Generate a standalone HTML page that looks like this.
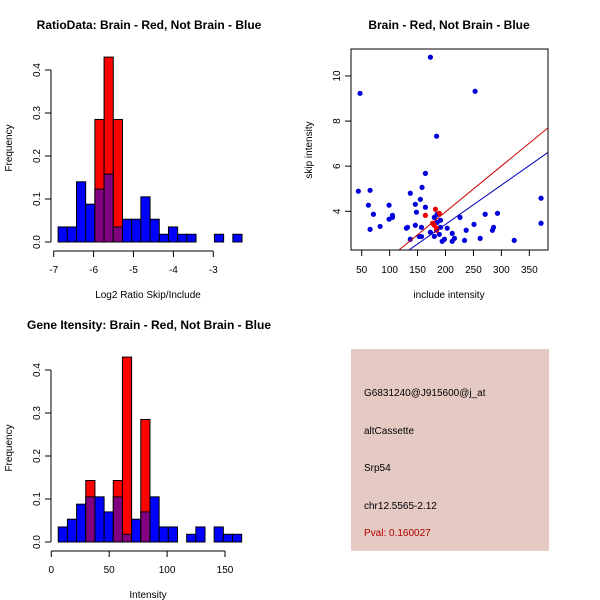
<!DOCTYPE html>
<html><head><meta charset="utf-8"><style>
html,body{margin:0;padding:0;background:#fff}
svg{display:block;font-family:"Liberation Sans",sans-serif}
</style></head><body>
<svg id="s" width="600" height="600" viewBox="0 0 600 600">
<text x="149" y="29" font-size="12" font-weight="bold" text-anchor="middle">RatioData: Brain - Red, Not Brain - Blue</text>
<text x="449" y="29" font-size="12" font-weight="bold" text-anchor="middle">Brain - Red, Not Brain - Blue</text>
<text x="149" y="329" font-size="12" font-weight="bold" text-anchor="middle">Gene Itensity: Brain - Red, Not Brain - Blue</text>
<text x="148" y="298" font-size="10" text-anchor="middle">Log2 Ratio Skip/Include</text>
<text x="148" y="598" font-size="10" text-anchor="middle">Intensity</text>
<text x="449" y="298" font-size="10" text-anchor="middle">include intensity</text>
<text transform="translate(12,148) rotate(-90)" font-size="10" text-anchor="middle">Frequency</text>
<text transform="translate(12,448) rotate(-90)" font-size="10" text-anchor="middle">Frequency</text>
<text transform="translate(312,150) rotate(-90)" font-size="10" text-anchor="middle">skip intensity</text>
<g>
<rect x="351" y="349" width="198" height="202" fill="#e5c9c3"/>
<text x="364" y="396" font-size="10">G6831240@J915600@j_at</text>
<text x="364" y="434" font-size="10">altCassette</text>
<text x="364" y="471" font-size="10">Srp54</text>
<text x="364" y="509" font-size="10">chr12.5565-2.12</text>
<text x="364" y="536" font-size="10" fill="#b00000">Pval: 0.160027</text>
</g>
</svg>
<script>
// Ratio histogram data
const ratioStart = -6.89, ratioBin = 0.2305;
const ratioBlue = [0.035,0.035,0.14,0.088,0.123,0.158,0.035,0.053,0.053,0.105,0.053,0.018,0.035,0.018,0.018,0,0,0.018,0,0.018];
const ratioRed  = [0,0,0,0,0.285,0.43,0.285,0,0,0,0,0,0,0,0,0,0,0,0,0];
const ratioXTicks = [-7,-6,-5,-4,-3];
const freqTicks = [0,0.1,0.2,0.3,0.4];
const freqTickLabels = ["0.0","0.1","0.2","0.3","0.4"];
// Intensity histogram data
const intStart = 6, intBin = 7.92;
const intBlue = [0.035,0.053,0.088,0.105,0.105,0.07,0.105,0.018,0.053,0.07,0.105,0.035,0.035,0,0.018,0.035,0,0.035,0.018,0.018];
const intRed  = [0,0,0,0.143,0,0,0.143,0.43,0,0.285,0,0,0,0,0,0,0,0,0,0];
const intXTicks = [0,50,100,150];
// Scatter data
const blueX = [44,47,62,65,65,71,83,99,99,105,105,130,132,137,137,146,148,146,155,158,157,153,157,164,164,173,184,180,173,180,185,189,191,191,194,198,203,212,212,216,226,234,237,253,251,262,271,284,286,293,323,371,371,185];
const blueY = [4.89,9.23,4.27,4.93,3.2,3.87,3.33,4.27,3.65,3.82,3.73,3.25,3.29,4.8,2.76,4.31,3.96,3.38,4.53,5.06,3.29,2.88,2.88,5.68,4.18,10.83,7.33,3.73,3.07,2.89,3.51,2.98,3.6,3.29,2.67,2.76,3.25,3.02,2.67,2.8,3.73,2.71,3.16,9.32,3.42,2.8,3.87,3.16,3.29,3.91,2.71,4.58,3.47,3.87];
const redX = [164,182,189,177,180,184,184];
const redY = [3.82,4.09,3.91,3.47,3.38,3.25,3.16];
const fitIntercepts = [-0.085,-0.06];
const fitSlopes = [0.0203,0.0174];
const scatterXTicks = [50,100,150,200,250,300,350];
const scatterYTicks = [4,6,8,10];

const NS="http://www.w3.org/2000/svg", svg=document.getElementById('s');
function mk(tag,attrs,parent){const e=document.createElementNS(NS,tag);for(const k in attrs)e.setAttribute(k,attrs[k]);(parent||svg).appendChild(e);return e;}

function hist(start,bin,blue,red,xt,xs,ys,y0,xAxisY,labY,name){
  const g=mk('g',{});
  
  
  for(let i=0;i<blue.length;i++){
    const x0=xs(start+i*bin), x1=xs(start+(i+1)*bin);
    const r=red[i], b=blue[i];
    if(r>0){const e=mk('rect',{x:x0,y:ys(r),width:x1-x0,height:y0-ys(r),fill:'#ff0000',stroke:'#000','stroke-width':1},g);
      
      }
    if(b>0){const e=mk('rect',{x:x0,y:ys(b),width:x1-x0,height:y0-ys(b),fill:r>0?'#800080':'#0000ff',stroke:'#000','stroke-width':1},g);
      
      }
  }
  const ax=mk('g',{stroke:'#000','stroke-width':1,fill:'none'});
  
  
  mk('line',{x1:51,x2:51,y1:ys(freqTicks[0]),y2:ys(freqTicks[freqTicks.length-1])},ax);
  freqTicks.forEach((t,i)=>{mk('line',{x1:45,x2:51,y1:ys(t),y2:ys(t)},ax);
    const tx=mk('text',{transform:`translate(40,${ys(t)}) rotate(-90)`,'font-size':10,'text-anchor':'middle',stroke:'none',fill:'#000'},ax);
    tx.textContent=freqTickLabels[i];
    
    });
  mk('line',{x1:xs(xt[0]),x2:xs(xt[xt.length-1]),y1:xAxisY,y2:xAxisY},ax);
  xt.forEach(t=>{mk('line',{x1:xs(t),x2:xs(t),y1:xAxisY,y2:xAxisY+6},ax);
    const tx=mk('text',{x:xs(t),y:labY,'font-size':10,'text-anchor':'middle',stroke:'none',fill:'#000'},ax);
    tx.textContent=t;
    
    });
}
hist(ratioStart,ratioBin,ratioBlue,ratioRed,ratioXTicks,v=>53.7+(v+7)*39.9,v=>242-v*430,242,251,273,'ratio');
hist(intStart,intBin,intBlue,intRed,intXTicks,v=>51.3+v*1.158,v=>542-v*430,542,551,573,'intensity');

const sx=v=>361.7+(v-50)*0.5587, sy=v=>211.3-(v-4)*22.56;
const sg=mk('g',{});


const cp=mk('clipPath',{id:'cp'});mk('rect',{x:351,y:49,width:197,height:201},cp);
const pts=mk('g',{'clip-path':'url(#cp)'},sg);
for(let i=0;i<blueX.length;i++){const c=mk('circle',{cx:sx(blueX[i]),cy:sy(blueY[i]),r:2.6,fill:'#0000dd'},pts);
  
  }
for(let i=0;i<redX.length;i++){const c=mk('circle',{cx:sx(redX[i]),cy:sy(redY[i]),r:2.6,fill:'#ee0000'},pts);
  
  }
const lc=['#cc0000','#0000bb'];
fitSlopes.forEach((m,i)=>{const a=fitIntercepts[i];
  const l=mk('line',{x1:sx(0),y1:sy(a),x2:sx(400),y2:sy(a+m*400),stroke:lc[i],'stroke-width':1},pts);
  
  });
const box=mk('rect',{x:351,y:49,width:197,height:201,fill:'none',stroke:'#000'},sg);


mk('line',{x1:sx(50),x2:sx(350),y1:250,y2:250,stroke:'#000'},sg);
scatterXTicks.forEach(t=>{mk('line',{x1:sx(t),x2:sx(t),y1:250,y2:256,stroke:'#000'},sg);
  const tx=mk('text',{x:sx(t),y:273,'font-size':10,'text-anchor':'middle'},sg);tx.textContent=t;
  
  });
scatterYTicks.forEach(t=>{mk('line',{x1:345,x2:351,y1:sy(t),y2:sy(t),stroke:'#000'},sg);
  const tx=mk('text',{transform:`translate(340,${sy(t)}) rotate(-90)`,'font-size':10,'text-anchor':'middle'},sg);tx.textContent=t;
  
  });
</script>
</body></html>
